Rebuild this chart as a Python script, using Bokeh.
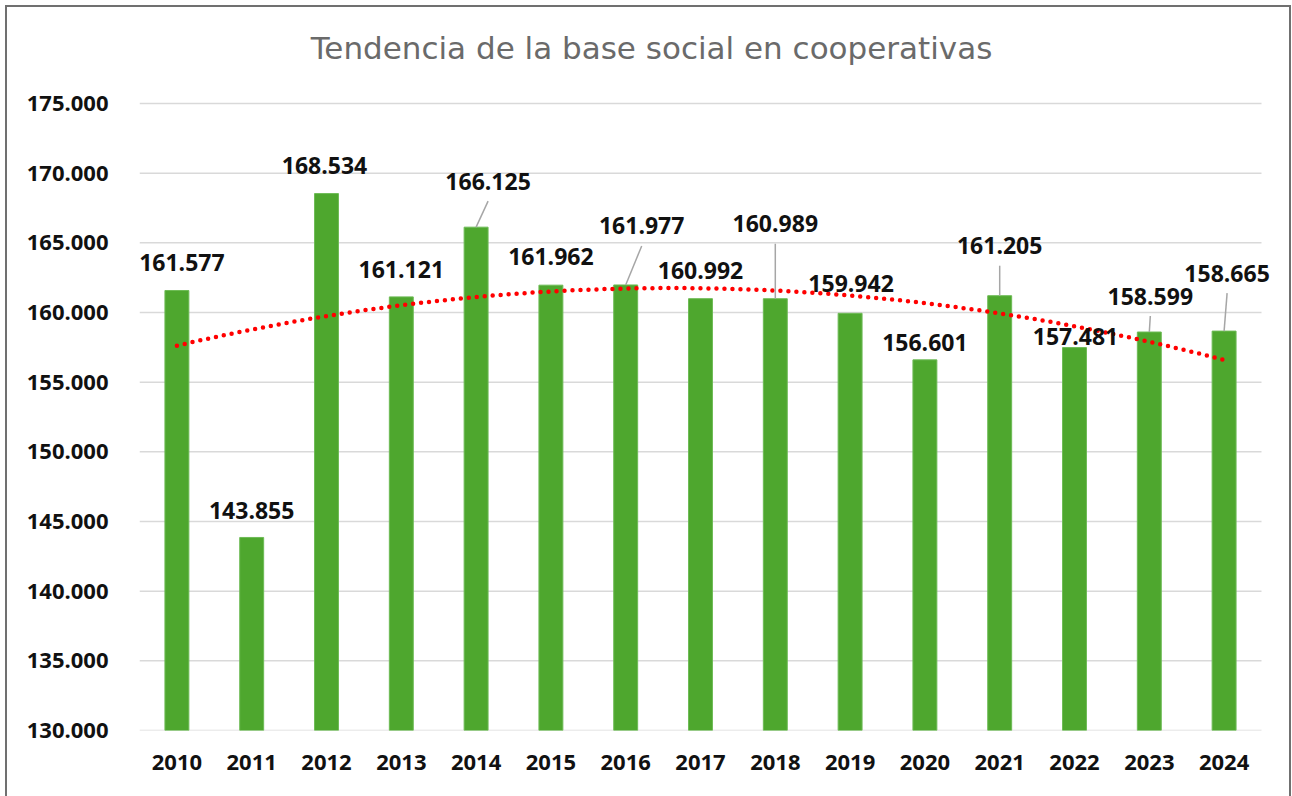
import numpy as np
from bokeh.plotting import figure
from bokeh.models import Range1d, FixedTicker, Label, LabelSet, ColumnDataSource
from bokeh.core.properties import value
from bokeh.embed import file_html
from bokeh.resources import INLINE

# ---- data ----
years = ["2010", "2011", "2012", "2013", "2014", "2015", "2016", "2017",
         "2018", "2019", "2020", "2021", "2022", "2023", "2024"]
socios = [161577, 143855, 168534, 161121, 166125, 161962, 161977, 160992,
          160989, 159942, 156601, 161205, 157481, 158599, 158665]
value_labels = ["161.577", "143.855", "168.534", "161.121", "166.125", "161.962",
                "161.977", "160.992", "160.989", "159.942", "156.601", "161.205",
                "157.481", "158.599", "158.665"]
y_ticks = [130000, 135000, 140000, 145000, 150000, 155000, 160000, 165000, 170000, 175000]
y_tick_labels = ["130.000", "135.000", "140.000", "145.000", "150.000",
                 "155.000", "160.000", "165.000", "170.000", "175.000"]
title_text = "Tendencia de la base social en cooperativas"

# ---- label placement (pixels, relative to bar top centre; negative = up) ----
label_dx = [5, 0, -2, 0, 12, 0, 16, 0, 0, 1, 0, 0, 1, 1, 3]
label_dy = [-28, -27, -28, -27, -46, -29, -59, -28, -75, -30, -17, -50, -11, -36, -58]
has_leader = [False, False, False, False, True, False, True, False, True,
              False, False, True, False, True, True]

# ---- layout (pixels) ----
W, H = 1292, 796
LEFT, BOTTOM = 139, 66          # space for the axes
PLOT_W, PLOT_H = 1122, 627      # plotting area (grid extent)
TOP = H - BOTTOM - PLOT_H       # space above the 175.000 grid line

Y0, Y1 = 130000, 175000
N = len(years)
PX_X = PLOT_W / N
PX_Y = PLOT_H / (Y1 - Y0)
x_start = -0.5
x_end = x_start + (W - LEFT) / PX_X
y_end = Y1 + TOP / PX_Y

idx = np.arange(N)

p = figure(width=W, height=H, x_range=Range1d(x_start, x_end),
           y_range=Range1d(Y0, y_end), output_backend="svg", toolbar_location=None,
           min_border_left=LEFT, min_border_right=0, min_border_top=0,
           min_border_bottom=BOTTOM)
p.outline_line_color = None
p.background_fill_color = None
p.border_fill_color = None
# chart frame (top, left, right) drawn behind the transparent canvas
p.styles = {
    "background-color": "white",
    "box-shadow": ("inset 5px 5px 0 0 #ffffff, inset -1px 0 0 0 #ffffff, "
                   "inset 7px 7px 0 0 #707070, inset -3px 0 0 0 #707070"),
}

p.xgrid.grid_line_color = None
p.ygrid.grid_line_color = None
# horizontal grid lines over the category extent only
p.segment(x0=[x_start] * len(y_ticks), x1=[N - 0.5] * len(y_ticks),
          y0=y_ticks, y1=y_ticks, line_color="#D9D9D9", line_width=1.5)

p.yaxis.ticker = FixedTicker(ticks=y_ticks)
p.yaxis.major_label_overrides = {t: l for t, l in zip(y_ticks, y_tick_labels)}
p.xaxis.ticker = FixedTicker(ticks=list(idx))
p.xaxis.major_label_overrides = {int(i): y for i, y in zip(idx, years)}
for ax in (p.xaxis, p.yaxis):
    ax.axis_line_color = None
    ax.major_tick_line_color = None
    ax.minor_tick_line_color = None
    ax.major_label_text_font = "Open Sans"
    ax.major_label_text_font_style = "bold"
    ax.major_label_text_font_size = "22px"
    ax.major_label_text_color = "#111111"
p.yaxis.major_label_standoff = 25
p.xaxis.major_label_standoff = 18

# bars
p.vbar(x=idx, top=socios, bottom=Y0, width=0.32, fill_color="#4EA72E",
       line_color="#6DBB55", line_width=1)

# polynomial (order 2) trend line, as Excel computes it
coef = np.polyfit(idx + 1, socios, 2)
xs = np.linspace(0, N - 1, 300)
ys = np.polyval(coef, xs + 1)
p.line(xs, ys, line_color="#FF0000", line_width=4.5, line_dash="0 8",
       line_cap="round")

# leader lines
lx0, ly0, lx1, ly1 = [], [], [], []
for i in range(N):
    if has_leader[i]:
        lx0.append(i)
        ly0.append(socios[i])
        lx1.append(i + label_dx[i] / PX_X)
        ly1.append(socios[i] + (-(label_dy[i] + 20)) / PX_Y)
p.segment(x0=lx0, y0=ly0, x1=lx1, y1=ly1, line_color="#A6A6A6", line_width=1.5)

# data labels
src = ColumnDataSource(dict(x=idx, y=socios, t=value_labels, dx=label_dx,
                            dyu=[-d for d in label_dy]))
p.add_layout(LabelSet(x="x", y="y", text="t", x_offset="dx", y_offset="dyu", source=src,
                      text_align="center", text_baseline="middle",
                      text_font=value("Open Sans"), text_font_style="bold",
                      text_font_size="23px", text_color="#111111"))

# title (screen units: measured from the frame's lower-left corner)
p.add_layout(Label(x=651 - LEFT, y=(H - BOTTOM) - 47, x_units="screen", y_units="screen",
                   text=title_text, text_align="center", text_baseline="middle",
                   text_font="DejaVu Sans", text_font_size="31px",
                   text_color="#6a6a6a"))

open("out.html", "w").write(file_html(p, INLINE))
